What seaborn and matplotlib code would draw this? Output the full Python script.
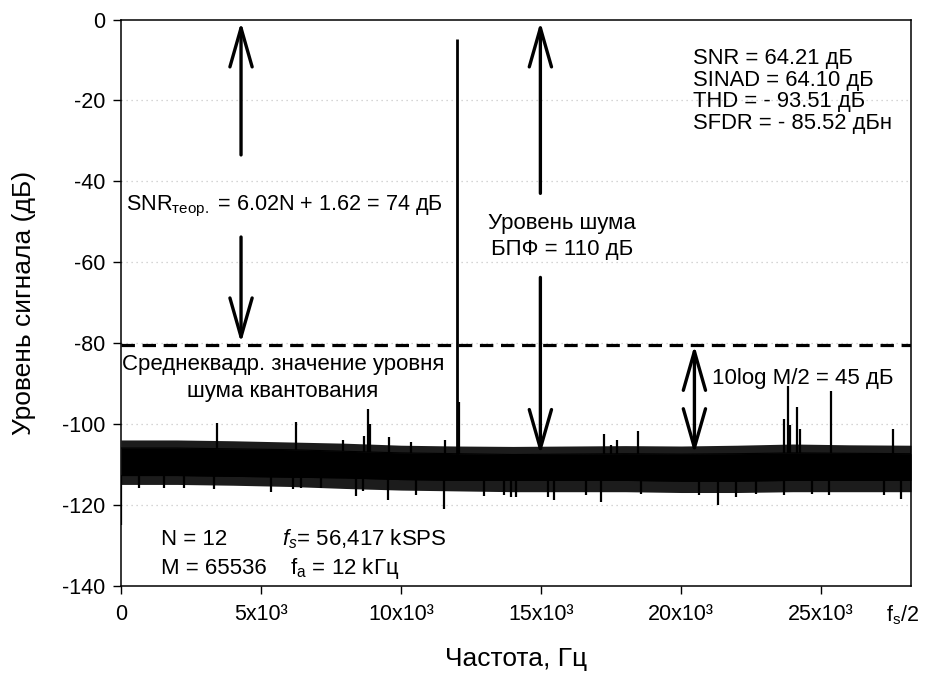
import numpy as np
import pandas as pd
import seaborn as sns
import matplotlib
matplotlib.use("Agg")
import matplotlib.pyplot as plt

# ---------------- data ----------------
fs_half = 28208.5                      # f_s / 2, Hz
x_ticks = [0, 5000, 10000, 15000, 20000, 25000]
x_ticklabels = ["0", "5x10³", "10x10³", "15x10³", "20x10³", "25x10³"]
y_ticks = [0, -20, -40, -60, -80, -100, -120, -140]

# noise floor envelopes (Hz, dB)
noise_freq = [0, 2000, 4000, 6000, 8000, 10000, 12000, 14000, 16000, 18000,
              20000, 22000, 24000, 26000, 28208.5]
core_hi = [-106.0, -106.0, -106.2, -106.4, -106.8, -107.2, -107.4, -107.6,
           -107.5, -107.4, -107.5, -107.4, -107.2, -107.3, -107.4]
core_lo = [-112.8, -112.8, -113.0, -113.2, -113.4, -113.8, -114.0, -114.0,
           -114.0, -114.0, -114.2, -114.2, -114.0, -114.0, -114.0]
fuzz_hi = [-104.0, -104.0, -104.2, -104.5, -104.8, -105.3, -105.5, -105.6,
           -105.5, -105.4, -105.5, -105.3, -105.0, -105.2, -105.3]
fuzz_lo = [-115.0, -115.0, -115.2, -115.5, -116.0, -116.4, -116.6, -116.8,
           -116.8, -116.8, -117.0, -117.0, -116.8, -116.8, -116.8]

# fundamental tone
tone_freq = 12000
tone_level = -4.9

# spurious peaks (Hz, dB)
spur_freq = [3440, 6250, 7914, 8690, 8807, 8904, 9582, 10357, 11582, 12082,
             17236, 17500, 17700, 18475, 23689, 23807, 23893, 24154, 24250,
             25368, 27582]
spur_level = [-99.8, -99.5, -103.9, -102.9, -96.3, -100.0, -103.2, -104.4,
              -103.9, -94.5, -102.6, -105.3, -104.0, -101.8, -98.9, -90.7,
              -100.2, -95.9, -101.2, -92.0, -101.2]

# downward dips of the noise (Hz, dB)
dip_freq = [0, 630, 1546, 2261, 3332, 5357, 6130, 6429, 7143, 8393, 8629,
            9546, 10536, 11546, 12975, 13664, 13929, 14107, 15236, 15475,
            16607, 17143, 18571, 20654, 21332, 21964, 22679, 23689, 24689,
            25296, 27261, 27857]
dip_level = [-125.0, -116.0, -116.0, -116.0, -116.2, -116.9, -116.2, -116.0,
             -115.8, -117.9, -116.6, -118.9, -117.5, -121.2, -117.8, -117.7,
             -118.1, -118.1, -118.1, -118.9, -117.7, -119.3, -117.3, -117.7,
             -120.0, -118.1, -117.4, -117.6, -117.4, -117.7, -117.7, -118.5]

quant_noise_rms = -80.5

# ---------------- style ----------------
sns.set_theme(style="ticks")
plt.rcParams["font.family"] = ["Liberation Sans", "DejaVu Sans"]
plt.rcParams["mathtext.fontset"] = "custom"
plt.rcParams["mathtext.rm"] = "Liberation Sans"
plt.rcParams["mathtext.it"] = "Liberation Sans:italic"
plt.rcParams["mathtext.bf"] = "Liberation Sans:bold"
plt.rcParams["axes.unicode_minus"] = False
for k in ["text.color", "axes.labelcolor", "xtick.color", "ytick.color",
          "xtick.labelcolor", "ytick.labelcolor", "axes.edgecolor"]:
    plt.rcParams[k] = "black"

W, H = 927, 677
fig = plt.figure(figsize=(W / 100, H / 100), dpi=100)
L, R, T, B = 121, 911, 19.5, 585.5
ax = fig.add_axes([L / W, 1 - B / H, (R - L) / W, (B - T) / H])

ax.set_xlim(0, fs_half)
ax.set_ylim(-140, 0)

# grid
for yv in y_ticks[1:-1]:
    ax.axhline(yv, color="#c8c8c8", lw=0.9, ls=(0, (1, 3)), zorder=0)

# noise floor
df = pd.DataFrame({"f": noise_freq, "chi": core_hi, "clo": core_lo,
                   "fhi": fuzz_hi, "flo": fuzz_lo})
ax.fill_between(df["f"], df["flo"], df["fhi"], color="#1c1c1c", lw=0, zorder=2)
ax.fill_between(df["f"], df["clo"], df["chi"], color="black", lw=0, zorder=3)
sns.lineplot(data=df, x="f", y="chi", color="black", lw=0.8, ax=ax, zorder=3)
sns.lineplot(data=df, x="f", y="clo", color="black", lw=0.8, ax=ax, zorder=3)

base_hi = np.interp(spur_freq, noise_freq, core_hi)
ax.vlines(spur_freq, base_hi, spur_level, color="black", lw=1.6, zorder=4)
base_lo = np.interp(dip_freq, noise_freq, core_lo)
ax.vlines(dip_freq, base_lo, dip_level, color="black", lw=1.6, zorder=4)
ax.vlines([tone_freq], np.interp([tone_freq], noise_freq, core_hi), [tone_level],
          color="black", lw=2.0, zorder=4)

# quantisation noise rms line
ax.axhline(quant_noise_rms, color="black", lw=2.3, ls=(0, (4.2, 2.4)), zorder=5)

# arrows
def arrow(x, y_from, y_to, style="->"):
    ax.annotate("", xy=(x, y_to), xytext=(x, y_from),
                arrowprops=dict(arrowstyle=f"{style},head_length=1.4,head_width=0.4",
                                lw=2.4, color="black", shrinkA=0, shrinkB=0,
                                mutation_scale=20), zorder=6)

arrow(4286, -33.5, -0.6)
arrow(4286, -53.8, -80.0)
arrow(14975, -43.0, -0.6)
arrow(14975, -63.8, -107.6)
arrow(20475, -107.4, -80.6, style="<->")

# texts
fs_txt = 16
ax.text(190, -46.3, r"SNR$_{\mathrm{теор.}}$ = 6.02N + 1.62 = 74 дБ",
        fontsize=15.6, va="center", ha="left")
ax.text(15761, -50.4, "Уровень шума", fontsize=fs_txt, va="center", ha="center")
ax.text(15761, -56.8, "БПФ = 110 дБ", fontsize=fs_txt, va="center", ha="center")
for i, s in enumerate(["SNR = 64.21 дБ", "SINAD = 64.10 дБ",
                       "THD = - 93.51 дБ", "SFDR = - 85.52 дБн"]):
    ax.text(20440, -9.6 - 5.38 * i, s, fontsize=15.8, va="center", ha="left")
ax.text(5780, -85.3, "Среднеквадр. значение уровня", fontsize=fs_txt,
        va="center", ha="center")
ax.text(5780, -92.0, "шума квантования", fontsize=fs_txt, va="center", ha="center")
ax.text(21118, -88.7, "10log M/2 = 45 дБ", fontsize=fs_txt, va="center", ha="left")
ax.text(1439, -128.5, "N = 12", fontsize=fs_txt, va="center", ha="left")
ax.text(1439, -135.9, "M = 65536", fontsize=fs_txt, va="center", ha="left")
ax.text(5750, -128.5, r"$f_{s}$= 56,417 kSPS", fontsize=fs_txt, va="center", ha="left")
ax.text(6036, -135.9, r"f$_{\mathrm{a}}$ = 12 kГц", fontsize=fs_txt, va="center", ha="left")

# axes
ax.set_xticks(x_ticks)
ax.set_xticklabels(x_ticklabels)
ax.set_yticks(y_ticks)
ax.tick_params(axis="both", direction="out", labelsize=15.5, colors="black",
               width=1.0, length=6)
ax.tick_params(axis="x", pad=7)
ax.tick_params(axis="y", pad=5)
ax.annotate(r"f$_{\mathrm{s}}$/2", xy=(27920, 0), xycoords=("data", "axes fraction"),
            xytext=(0, -13), textcoords="offset points", ha="center", va="top",
            fontsize=15.5)
for sp in ax.spines.values():
    sp.set_visible(True)
    sp.set_color("black")
    sp.set_linewidth(1.1)

ax.set_xlabel("Частота, Гц", fontsize=19)
ax.set_ylabel("Уровень сигнала (дБ)", fontsize=19)
ax.xaxis.set_label_coords(0.5, -0.108)
ax.yaxis.set_label_coords(-0.108, 0.5)

fig.savefig("out.png", dpi=100)
